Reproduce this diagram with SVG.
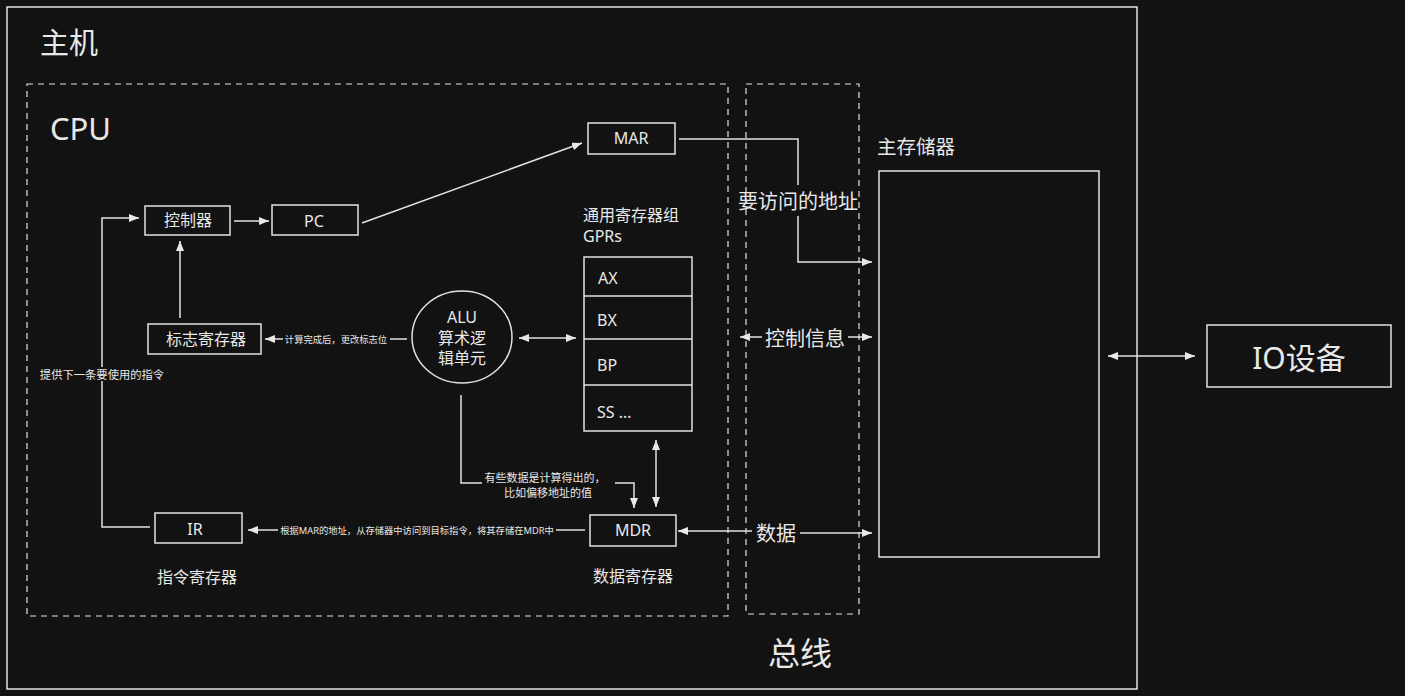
<svg xmlns="http://www.w3.org/2000/svg" width="1405" height="696" viewBox="0 0 1405 696">
<defs>
<style>
.bg{fill:#121212}
.box{fill:none;stroke:#e2e2e2;stroke-width:1.5}
.dash{fill:none;stroke:#e2e2e2;stroke-width:1.2;stroke-dasharray:6 5}
.ln{fill:none;stroke:#e2e2e2;stroke-width:1.5}
text{fill:#e8e8e8;font-family:"Noto Sans","Noto Sans CJK SC",sans-serif}
.c{text-anchor:middle;dominant-baseline:central}
.l{dominant-baseline:central}
.f16{font-size:16px}
.f20{font-size:20px}
.fs{font-size:9.3px}
.fm{font-size:11px}
</style>
<marker id="ah" viewBox="0 0 10 8" refX="10" refY="4" markerWidth="10" markerHeight="8" markerUnits="userSpaceOnUse" orient="auto-start-reverse">
<path d="M0,0 L10,4 L0,8 z" fill="#e8e8e8"/>
</marker>
</defs>
<rect class="bg" x="0" y="0" width="1405" height="696"/>

<g id="host">
<rect class="box" x="7" y="7" width="1130" height="682"/>
<text x="40" y="54" style="font-size:29px">主机</text>
</g>

<g id="cpu">
<rect class="dash" x="27" y="84" width="701" height="532"/>
<text x="50" y="140" style="font-size:31px">CPU</text>
</g>

<g id="bus">
<rect class="dash" x="746" y="84" width="113" height="530"/>
<text x="800" y="652" class="c" style="font-size:32px">总线</text>
</g>

<g id="controller">
<rect class="box" x="145" y="206" width="85" height="29"/>
<text x="188" y="220" class="c f16">控制器</text>
</g>

<g id="pc">
<rect class="box" x="272" y="205" width="86" height="30"/>
<text x="314" y="221" class="c f16">PC</text>
</g>

<g id="mar">
<rect class="box" x="588" y="123" width="87" height="31"/>
<text x="631" y="138" class="c f16">MAR</text>
</g>

<g id="flags">
<rect class="box" x="148" y="324" width="113" height="30"/>
<text x="206" y="339" class="c f16">标志寄存器</text>
</g>

<g id="alu">
<ellipse class="box" cx="462" cy="337" rx="50" ry="46"/>
<text x="462" y="317" class="c f16">ALU</text>
<text x="462" y="338" class="c f16">算术逻</text>
<text x="462" y="358" class="c f16">辑单元</text>
</g>

<g id="gprs">
<text x="583" y="215" class="l f16">通用寄存器组</text>
<text x="583" y="236" class="l f16">GPRs</text>
<rect class="box" x="584" y="257" width="108" height="174"/>
<path class="ln" d="M584,296 H692 M584,339 H692 M584,385 H692"/>
<text x="598" y="278" class="l f16">AX</text>
<text x="597" y="320" class="l f16">BX</text>
<text x="597" y="365" class="l f16">BP</text>
<text x="597" y="412" class="l f16">SS …</text>
</g>

<g id="mdr">
<rect class="box" x="590" y="515" width="86" height="31"/>
<text x="633" y="530" class="c f16">MDR</text>
<text x="633" y="576" class="c f16">数据寄存器</text>
</g>

<g id="ir">
<rect class="box" x="155" y="513" width="87" height="30"/>
<text x="195" y="529" class="c f16">IR</text>
<text x="197" y="577" class="c f16">指令寄存器</text>
</g>

<g id="memory">
<text x="877" y="146" class="l" style="font-size:19.5px">主存储器</text>
<rect class="box" x="879" y="171" width="220" height="386"/>
</g>

<g id="io">
<rect class="box" x="1207" y="325" width="184" height="62"/>
<text x="1299" y="357" class="c" style="font-size:30px">IO设备</text>
</g>

<g id="connectors">
<line class="ln" x1="362" y1="223" x2="582" y2="143" marker-end="url(#ah)"/>
<line class="ln" x1="234" y1="221" x2="269" y2="221" marker-end="url(#ah)"/>
<line class="ln" x1="180" y1="318" x2="180" y2="241" marker-end="url(#ah)"/>
<path class="ln" d="M150,527 H102 V381"/>
<path class="ln" d="M102,367 V218 H139" marker-end="url(#ah)"/>
<text x="102" y="374" class="c fm" style="font-size:11.3px">提供下一条要使用的指令</text>

<line class="ln" x1="407" y1="339" x2="390" y2="339"/>
<line class="ln" x1="283" y1="339" x2="265" y2="339" marker-end="url(#ah)"/>
<text x="336" y="339" class="c fs">计算完成后，更改标志位</text>

<line class="ln" x1="519" y1="338" x2="576" y2="338" marker-start="url(#ah)" marker-end="url(#ah)"/>

<path class="ln" d="M461,395 V483 H482"/>
<path class="ln" d="M615,483 H634 V508" marker-end="url(#ah)"/>
<text x="545" y="477" class="c fm">有些数据是计算得出的，</text>
<text x="548" y="492" class="c fm">比如偏移地址的值</text>

<line class="ln" x1="656" y1="440" x2="656" y2="507" marker-start="url(#ah)" marker-end="url(#ah)"/>

<line class="ln" x1="585" y1="530" x2="556" y2="530"/>
<line class="ln" x1="278" y1="530" x2="248" y2="530" marker-end="url(#ah)"/>
<text x="417" y="530" class="c fs">根据MAR的地址，从存储器中访问到目标指令，将其存储在MDR中</text>

<path class="ln" d="M679,139 H798 V185"/>
<path class="ln" d="M798,216 V262 H872" marker-end="url(#ah)"/>
<text x="798" y="201" class="c f20">要访问的地址</text>

<line class="ln" x1="762" y1="337" x2="740" y2="337" marker-end="url(#ah)"/>
<line class="ln" x1="848" y1="337" x2="872" y2="337" marker-end="url(#ah)"/>
<text x="805" y="338" class="c f20">控制信息</text>

<line class="ln" x1="752" y1="531" x2="678" y2="531" marker-end="url(#ah)"/>
<line class="ln" x1="800" y1="533" x2="872" y2="533" marker-end="url(#ah)"/>
<text x="776" y="533" class="c f20">数据</text>

<line class="ln" x1="1108" y1="356" x2="1195" y2="356" marker-start="url(#ah)" marker-end="url(#ah)"/>
</g>
</svg>
